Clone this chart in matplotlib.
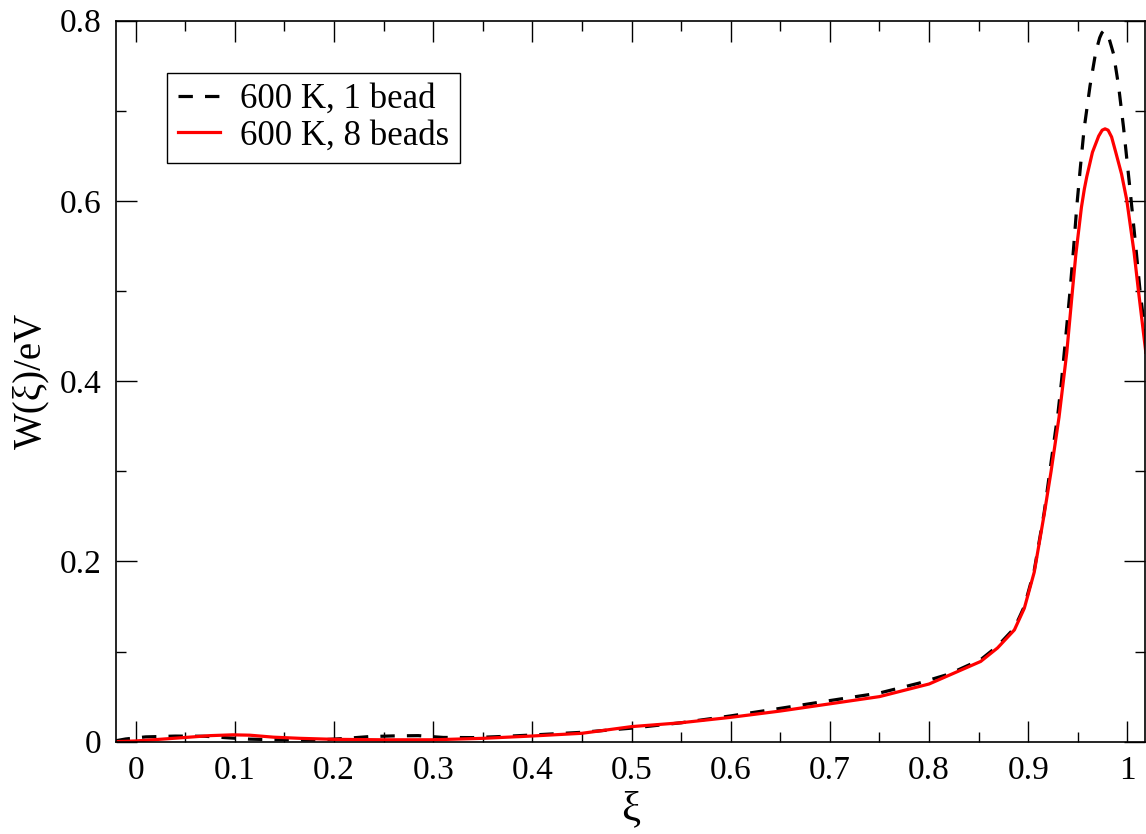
import matplotlib
matplotlib.use("Agg")
import matplotlib.pyplot as plt
from matplotlib.ticker import MultipleLocator

# ---- data ----
xi_1bead = [-0.02, -0.01, 0.01, 0.04, 0.07, 0.09, 0.115, 0.14, 0.185, 0.21,
            0.235, 0.26, 0.285, 0.31, 0.34, 0.37, 0.40, 0.45, 0.50, 0.55,
            0.60, 0.65, 0.70, 0.75, 0.79, 0.82, 0.852, 0.869, 0.886, 0.896,
            0.906, 0.916, 0.923, 0.930, 0.9335, 0.937, 0.9421, 0.9455, 0.949,
            0.9525, 0.9563, 0.9623, 0.968, 0.972, 0.9742, 0.9764, 0.9786, 0.981,
            0.986, 0.991, 0.996, 1.0033, 1.0085, 1.0127, 1.018]
w_1bead = [0.001, 0.003, 0.0053, 0.0062, 0.006, 0.0045, 0.0028, 0.0022, 0.0019, 0.0035,
           0.0056, 0.0064, 0.0067, 0.0047, 0.0045, 0.0058, 0.0074, 0.0104, 0.015, 0.021,
           0.0286, 0.037, 0.0456, 0.054, 0.065, 0.075, 0.091, 0.106, 0.126, 0.15,
           0.19, 0.254, 0.31, 0.365, 0.40, 0.44, 0.50, 0.545, 0.595,
           0.637, 0.68, 0.728, 0.765, 0.781, 0.7865, 0.789, 0.7865, 0.782,
           0.763, 0.728, 0.682, 0.605, 0.548, 0.50, 0.452]

xi_8beads = [-0.02, 0.0, 0.015, 0.048, 0.075, 0.098, 0.115, 0.139, 0.166, 0.20,
             0.25, 0.30, 0.35, 0.40, 0.45, 0.50, 0.55, 0.60, 0.65, 0.70,
             0.75, 0.80, 0.852, 0.869, 0.886, 0.896, 0.906, 0.916, 0.923, 0.931,
             0.9388, 0.9445, 0.9479, 0.9536, 0.9565, 0.959, 0.9647, 0.971, 0.9745,
             0.9774, 0.9805, 0.984, 0.9882, 0.994, 0.9993, 1.0067, 1.0111, 1.0185]
w_8beads = [0.0, 0.0008, 0.0019, 0.0045, 0.0067, 0.0076, 0.0072, 0.005, 0.0037, 0.0026,
            0.0021, 0.0021, 0.0037, 0.0063, 0.0093, 0.0167, 0.021, 0.027, 0.034, 0.042,
            0.050, 0.064, 0.089, 0.104, 0.124, 0.148, 0.188, 0.252, 0.30, 0.36,
            0.4316, 0.50, 0.54, 0.593, 0.613, 0.627, 0.654, 0.672, 0.6785,
            0.68, 0.6785, 0.671, 0.654, 0.63, 0.601, 0.5427, 0.50, 0.432]

labels = ["600 K, 1 bead", "600 K, 8 beads"]

plt.rcParams["font.family"] = ["Liberation Serif", "DejaVu Serif"]

fig = plt.figure(figsize=(11.46, 8.34), dpi=100)
ax = fig.add_axes([0.101, 0.1107, 0.8984, 0.8645])

ax.plot(xi_1bead, w_1bead, color="black", lw=2.3, ls=(0, (4.5, 3.8)), label=labels[0])
ax.plot(xi_8beads, w_8beads, color="red", lw=2.3, label=labels[1])

ax.set_xlim(-0.02, 1.018)
ax.set_ylim(0, 0.8)

ax.xaxis.set_minor_locator(MultipleLocator(0.05))
ax.yaxis.set_minor_locator(MultipleLocator(0.1))
ax.set_xticks([0, 0.1, 0.2, 0.3, 0.4, 0.5, 0.6, 0.7, 0.8, 0.9, 1.0])
ax.set_xticklabels(["0", "0.1", "0.2", "0.3", "0.4", "0.5", "0.6", "0.7", "0.8", "0.9", "1"])
ax.set_yticks([0, 0.2, 0.4, 0.6, 0.8])
ax.set_yticklabels(["0", "0.2", "0.4", "0.6", "0.8"])

ax.tick_params(which="both", direction="in", top=True, right=True, labelsize=24, width=1.0)
ax.tick_params(which="major", length=15, pad=10)
ax.tick_params(which="minor", length=7.5)
for sp in ax.spines.values():
    sp.set_linewidth(1.2)

ax.set_xlabel("ξ", fontsize=31, labelpad=3)
ax.set_ylabel("W(ξ)/eV", fontsize=28, labelpad=8)

leg = ax.legend(loc="upper left", bbox_to_anchor=(0.0502, 0.928), borderaxespad=0,
                fontsize=25, fancybox=False, edgecolor="black", framealpha=1,
                handlelength=1.2, handletextpad=0.6, borderpad=0.3, labelspacing=0.1)
leg.get_frame().set_linewidth(1.0)

fig.savefig("out.png", dpi=100)
